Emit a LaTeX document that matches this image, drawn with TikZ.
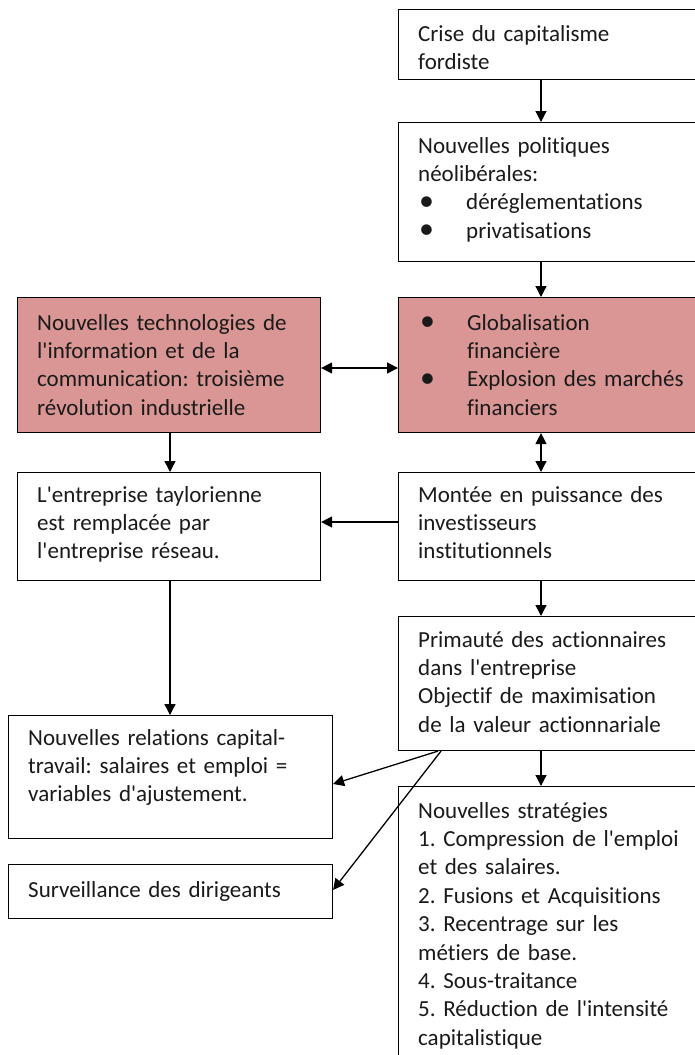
\documentclass[tikz,border=0pt]{standalone}
\usepackage{fontspec}
\setmainfont{Carlito}[Ligatures={NoCommon}]
\usetikzlibrary{arrows.meta,calc}
\definecolor{pinkbox}{HTML}{D99694}
\definecolor{ink}{HTML}{1A1A1A}
\newcommand{\bul}{\makebox[48pt][l]{\hspace{1pt}\raisebox{-0.5pt}{\scalebox{1.3}{\textbullet}}}}
\newcommand{\ind}{\hspace*{48pt}}
\newcommand{\q}{\textquotesingle}
\begin{document}
\begin{tikzpicture}[x=1pt,y=-1pt,
  box/.style 2 args={draw=black, line width=1.1pt, anchor=north west, inner sep=0pt,
    minimum width=#1, minimum height=#2},
  pinkfill/.style={fill=pinkbox},
  txt/.style={anchor=north west, inner sep=0pt, align=left, text width=300pt,
    font=\fontsize{23}{28.4}\selectfont\frenchspacing, text=ink, execute at begin node=\strut, yshift=19.9pt},
  arr/.style={-{Triangle[length=11pt,width=11pt]}, line width=1.3pt},
  darr/.style={{Triangle[length=11pt,width=11pt]}-{Triangle[length=11pt,width=11pt]}, line width=1.3pt}
]
\useasboundingbox (0,0) rectangle (694,1055);
\fill[white] (0,0) rectangle (694,1055);

% boxes
\node[box={307}{70}] (crise) at (398,9) {};
\node[box={307}{139}] (pol) at (398,122) {};
\node[box={303}{135}, pinkfill] (ntic) at (17,297) {};
\node[box={307}{135}, pinkfill] (glob) at (398,297) {};
\node[box={303}{108}] (tayl) at (17,472) {};
\node[box={307}{108}] (mont) at (398,472) {};
\node[box={307}{134}] (prim) at (398,616) {};
\node[box={324}{123}] (rel) at (8,715) {};
\node[box={324}{54}] (surv) at (8,864) {};
\node[box={307}{290}] (strat) at (398,786) {};

% texts
\node[txt] (tcrise) at (418,41) {Crise du capitalisme\\fordiste};
\node[txt] (tpol) at (418,153) {Nouvelles politiques\\n\'eolib\'erales:\\\bul d\'er\'eglementations\\\bul privatisations};
\node[txt] (tntic) at (37,330) {Nouvelles technologies de\\l\q information et de la\\communication: troisi\`eme\\r\'evolution industrielle};
\node[txt] (tglob) at (419,330) {\bul Globalisation\\\ind financi\`ere\\\bul Explosion des march\'es\\\ind financiers};
\node[txt] (ttayl) at (37,502) {L\q entreprise taylorienne\\est remplac\'ee par\\l\q entreprise r\'eseau.};
\node[txt] (tmont) at (418,502) {Mont\'ee en puissance des\\investisseurs\\institutionnels};
\node[txt] (tprim) at (418,647) {Primaut\'e des actionnaires\\dans l\q entreprise\\Objectif de maximisation\\de la valeur actionnariale};
\node[txt] (trel) at (28,745) {Nouvelles relations capital-\\travail: salaires et emploi =\\variables d\q ajustement.};
\node[txt] (tsurv) at (28,897) {Surveillance des dirigeants};
\node[txt] (tstrat) at (418,818) {Nouvelles strat\'egies\\1. Compression de l\q emploi\\et des salaires.\\2. Fusions et Acquisitions\\3. Recentrage sur les\\m\'etiers de base.\\4. Sous-traitance\\5. R\'eduction de l\q intensit\'e\\capitalistique};

% helper coordinates
\coordinate (cx) at (541,0);
\coordinate (lx) at (170,0);
\coordinate (hy) at (0,368);
\coordinate (my) at (0,522);
\coordinate (p1) at (438,0);
\coordinate (p2) at (441,0);
\coordinate (r1) at (0,784);
\coordinate (s1) at (0,890);

% connectors
\draw[arr] (crise.south -| cx) -- (pol.north -| cx);
\draw[arr] (pol.south -| cx) -- (glob.north -| cx);
\draw[darr] (ntic.east |- hy) -- (glob.west |- hy);
\draw[darr] (glob.south -| cx) -- (mont.north -| cx);
\draw[arr] (ntic.south -| lx) -- (tayl.north -| lx);
\draw[arr] (mont.west |- my) -- (tayl.east |- my);
\draw[arr] (mont.south -| cx) -- (prim.north -| cx);
\draw[arr] (tayl.south -| lx) -- (rel.north -| lx);
\draw[arr] (prim.south -| cx) -- (strat.north -| cx);
\draw[arr] (prim.south -| p1) -- (rel.east |- r1);
\draw[arr] (prim.south -| p2) -- (surv.east |- s1);
\end{tikzpicture}
\end{document}
